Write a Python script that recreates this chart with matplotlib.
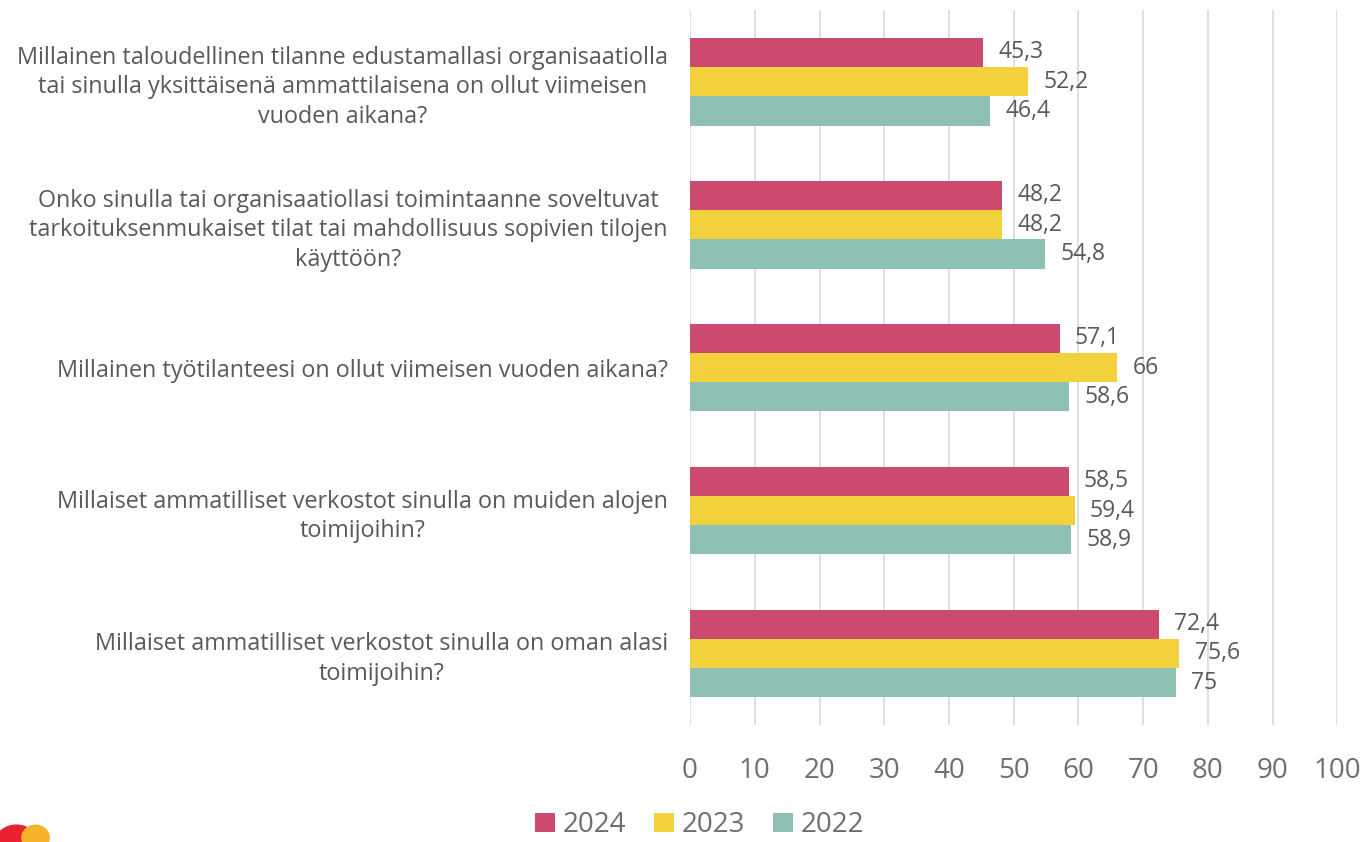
import matplotlib.pyplot as plt
from matplotlib.patches import Ellipse
import numpy as np

# D A T A ----------------------------------------------------------
questions = [
    "Millainen taloudellinen tilanne edustamallasi organisaatiolla\ntai sinulla yksittäisenä ammattilaisena on ollut viimeisen\nvuoden aikana?",
    "Onko sinulla tai organisaatiollasi toimintaanne soveltuvat\ntarkoituksenmukaiset tilat tai mahdollisuus sopivien tilojen\nkäyttöön?",
    "Millainen työtilanteesi on ollut viimeisen vuoden aikana?",
    "Millaiset ammatilliset verkostot sinulla on muiden alojen\ntoimijoihin?",
    "Millaiset ammatilliset verkostot sinulla on oman alasi\ntoimijoihin?",
]
years = ["2024", "2023", "2022"]
values_2024 = [45.3, 48.2, 57.1, 58.5, 72.4]
values_2023 = [52.2, 48.2, 66, 59.4, 75.6]
values_2022 = [46.4, 54.8, 58.6, 58.9, 75]
xticks = [0, 10, 20, 30, 40, 50, 60, 70, 80, 90, 100]

colors = ["#CC4A6E", "#F2D13C", "#8EC1B4"]
text_grey = "#595959"

plt.rcParams['font.family'] = ['Open Sans', 'DejaVu Sans']

fig = plt.figure(figsize=(13.67, 8.42), dpi=100)
ax = fig.add_axes([0.5048, 0.139, 0.4735, 0.849])

y = np.arange(len(questions))
bar_h = 0.205
series = [values_2024, values_2023, values_2022]
for i, (vals, year, col) in enumerate(zip(series, years, colors)):
    pos = y + (i - 1) * bar_h
    ax.barh(pos, vals, height=bar_h, color=col, label=year, zorder=2)
    for p, v in zip(pos, vals):
        txt = f"{v:g}".replace(".", ",")
        ax.annotate(txt, (v, p), xytext=(11, 0), textcoords="offset points",
                    va="center", ha="left", fontsize=16.5, color=text_grey)

ax.set_xlim(0, 100)
ax.set_ylim(len(questions) - 0.5, -0.5)
ax.set_xticks(xticks)
ax.set_xticklabels([str(t) for t in xticks], fontsize=20, color="#6f6f6f")
ax.set_yticks(y)
ax.set_yticklabels(questions, fontsize=16.8, color=text_grey,
                   multialignment="center", linespacing=1.3)
ax.tick_params(axis="x", length=0, pad=23)
ax.tick_params(axis="y", length=0, pad=16)
ax.grid(axis="x", color="#D9D9D9", linewidth=1.2, zorder=0)
for s in ax.spines.values():
    s.set_visible(False)

leg = fig.legend(loc="center", bbox_to_anchor=(0.512, 0.02), ncol=3,
                 frameon=False, fontsize=20, handlelength=0.7, handleheight=0.7,
                 handletextpad=0.3, columnspacing=1.0, labelcolor="#6f6f6f",
                 borderpad=0.1)

# logo fragment bottom-left
fig.patches.append(Ellipse((0.012, 0.0), 0.03, 0.04, transform=fig.transFigure,
                           color="#E8232D", figure=fig))
fig.patches.append(Ellipse((0.026, 0.005), 0.02, 0.03, transform=fig.transFigure,
                           color="#F7B32B", figure=fig))

fig.savefig("out.png", dpi=100)
